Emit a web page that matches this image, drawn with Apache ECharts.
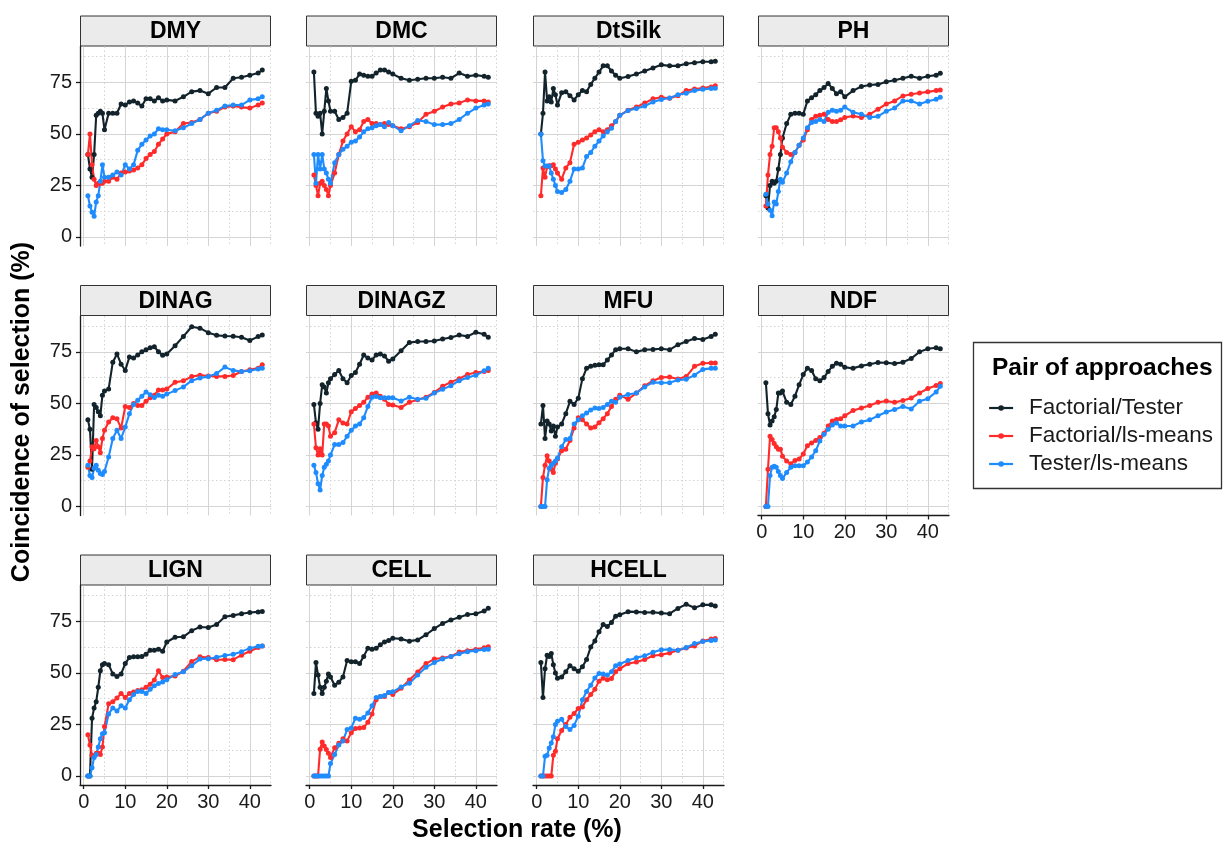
<!DOCTYPE html>
<html>
<head>
<meta charset="utf-8">
<script src="https://cdn.jsdelivr.net/npm/echarts@6/dist/echarts.min.js"></script>
<style>
html, body { margin: 0; padding: 0; background: #fff; }
#main { width: 1224px; height: 847px; }
</style>
</head>
<body>
<div id="main"></div>
<script>
// selection rate (%) shared by every panel
var rate = [1, 1.5, 2, 2.5, 3, 3.5, 4, 4.5, 5, 6, 7, 8, 9, 10, 11, 12, 13, 14, 15, 16, 17, 18, 19, 20, 22, 24, 26, 28, 30, 32, 34, 36, 38, 40, 42, 43];

// coincidence (%) : FT = Factorial/Tester, FL = Factorial/ls-means, TL = Tester/ls-means
var dmyFT = [40,33,29,40,59,60,61,60,52,60,60,60,64.5,64,65.5,66,65,63.5,67,67,66,67.5,66,66.5,66,68,70.5,71,69.5,72.5,72.5,77,77.5,78.5,79.5,81];
var dmyFL = [40,50,35,28,25,26,26,26,27,27,29,28,31,31.5,32,32.5,33.5,35,38,40,41.5,45,47.5,50,51,55,55.5,57,60,61,63,63.5,63,62.5,64,65];
var dmyTL = [20,15,12,10,17,20,27,35,29,29,30,31.5,30,35,33,35,42,45,47,49,50,52.5,52,52,51.5,53,55,57,60,61.5,63.5,64,64,66.5,67,68];

var dmcFT = [80,60,58.5,60,50,61,72,66,61,61,57,58,60,75.5,76,79,78.5,78,78,79.5,81,81,80,79,77,76,76.5,77,77,77.5,77,79.5,78,78.5,78,77.5];
var dmcFL = [30,25,20,26,27,25,23,20,25,31,40,46.5,50,53.5,51,52,56,57,55,55,54.5,55,54.5,54,52.5,53.5,55.5,59.5,61,63,64.5,65,66.5,66,66,65.5];
var dmcTL = [40,26,40,33,40,33,31,28,26,36,40,42.5,44,46,46.5,48.5,51,52.5,53,54,54.5,53.5,55.5,54,51.5,54,56.5,56,54.5,54.5,55,57,60,62.5,64,64.5];

var silkFT = [50,60,80,66,68,65.5,72,69,64,70,70.5,68.5,66.5,69,71,70.5,74,77,80,83,83,80.5,78.5,77,77.8,79,80.5,82,83.5,83,83,84,84.5,85,85,85.3];
var silkFL = [20,33.5,29,34,34.5,34.5,35,33,31,28,33.5,36,45,46,47,48,49.5,51,52,51,52,54,56,59,61.5,63,65,67,67.8,67.3,68.5,71,71.8,72.3,72.8,73.3];
var silkTL = [50,37,34.4,34.4,34.4,31,28,25,22,21.5,23,27,33,33,33.5,39,41,44,46.5,49,51,52.7,56,59,61.3,62.3,63.5,65.5,66.7,67.4,69,69.7,71,71.6,72,72.1];

var phFT = [20,14,25,27,26,27,33,40,48,55,59.5,60,60,59.5,66,67.5,69,71,72.5,74.5,72,69.5,70.5,68,71,73,73.7,74,75.3,76,77,78,77,78,78.5,79.4];
var phFL = [15,30,40,44,53,53,51,48,43.5,41,40,41,44.5,47,52,57,58.5,59,59.5,57,56,56,56.8,58,58.7,58,59.5,62,64.5,66,68.4,69.2,69.8,70.4,71,71.3];
var phTL = [20.7,16,13,10.3,17,16,22,28,26.5,31,36.5,41,44.5,48,53,55.5,56,57,56,60.5,61.5,61,61.5,63,60.5,59.5,58,58.5,61,62.5,66,66,64.5,65.8,66.8,67.8];

var dinagFT = [42,37.5,18,49.5,48,46,44,54,56,57,70,74,69,66,72.5,72,73.5,75,76,77,77.5,75,73.3,74,78,82.5,87.2,86.5,84.3,83,82.7,82.6,82.1,80.5,82.4,83.2];
var dinagFL = [19,22,29,28,32,29,26,33,37,41,43,42.5,38,48.5,48,50,49,49,51,52.7,54,56.5,56.5,57,60.2,61,63,63.7,63.3,63.1,63.1,63.5,65.5,66.3,67.1,68.8];
var dinagTL = [20,15,14,18.5,20,17.5,16,15.5,17,24,33,37,33,38.5,45,49.5,51.5,53.5,55.5,54.2,52.8,54,53.5,54.5,56.2,58,61,62.3,63,64.5,67.6,66,65.5,65.8,66.7,67.1];

var dinagzFT = [49.5,40.6,37.5,50,59,58,55,60,62,64,66,62,60,63.5,65,69,73.5,72,71,73.5,74,73,70.5,71.5,75.5,79.5,80,80,80.3,81.2,82,83.2,82.5,84.5,83.5,82.1];
var dinagzFL = [40,28.5,25,28,25,40,40,39,34,35.8,42,40.5,40,46,47.5,49,50.5,53,54.5,55,53.5,52,49.5,49.2,48,50.5,51.8,53,55.3,58.3,60.3,62,64,65,65.5,66];
var dinagzTL = [20,16.5,11,8,15,19,20.5,22,25,30,30,31,34,37,39,40,43,48.5,53,53.3,52.7,52.7,52.7,52.7,51.2,53,52,52.5,55,56.8,58.6,61,62.6,63.6,65.8,67.1];

var mfuFT = [40,49,33,41.4,40,36.6,39,34,38.5,40,45,51,49.5,52.5,62,67,68,68.5,68.8,68.8,71,73.5,76,76.5,76.5,75,76,76.2,76.5,76,78.5,80,81.5,81,82.5,83.5];
var mfuFL = [0,14,20,24.6,22,18,16.5,21,23,27,27.8,32,38,43,42,40,38,38.5,40.6,42.5,45,48.5,52,54,52,55,58.5,61,62.6,62.8,61.8,63,68,69.5,69.6,69.6];
var mfuTL = [0,0,0,13,18.5,20,21,22,23.5,29,32.5,33,40,42,44,45.3,46.8,47.7,47.5,48,49.5,51,50.5,53,54.3,55,58,60.2,60,60,61.3,61.7,63.7,66.5,67,67.1];

var ndfFT = [60,45,39.5,41.5,43.5,47,55,55,56,50.5,49.5,53.5,59,64,67,66,62,61,62.5,65.5,68,69.5,69,67.5,67,68.2,69,69.8,69.7,69.3,70,71.8,75,76.5,77,76.5];
var ndfFL = [0,18,34,32.5,30.5,29,27.8,27.8,24.3,22,20.7,22.3,23,25.4,29.5,30.8,32,33.4,35.5,39,41.5,42.2,42.5,44,46.5,47.8,49,50.5,51.2,50.5,51.4,52.6,55,57.2,58.7,59.6];
var ndfTL = [0,0,15,19,19.5,19,17,15,13.5,16.5,19,19.8,19.8,19.8,21.5,24,27,31.8,35,37.5,39.5,40.5,39,39,39,41,42,44,45.8,47,48.5,47.3,51,52.3,55.5,58.3];

var lignFT = [0,0,28,33,36,43,51,54,54.5,54,49.5,48.2,49.5,54.5,57.5,57.8,57.8,58,59,61,61,61.5,60.5,65,67.3,67.5,70.5,72.3,72,73.5,77.2,77.9,78.7,79.3,79.6,79.8];
var lignFL = [20,15,10,9.5,11,11,10.4,14,24,35,36,37.8,40,38,40,40.7,41.4,41.8,43,44.5,46.5,51,47.8,48,48.5,50.8,55.5,57.8,57.5,56.4,56.5,56.4,58.6,60.5,62.3,63.1];
var lignTL = [0,0,4,9,10.4,14,18,20.5,21,30,33,31.5,34,33,37,39.5,41,41,40,42,43.7,44.8,45.6,46.7,49.2,50.6,53.5,56.7,56.9,57.6,58.4,59,60.3,62,62.9,63.1];

var cellFT = [40,55,49,43,40,43,46,49.5,48,44,45.5,48,56,55.4,55.4,54.5,58,62,61.5,62,63.6,65,65.7,66.8,66.5,65.4,66,68.5,71.5,74,75.7,77,78.3,78.7,80,81.4];
var cellFL = [0,0,0,13,16.5,14.5,12.8,11,9,13.7,15.8,18,17,21,23,23.3,23.5,26,30,37,38.6,38.6,40.5,39.5,42.5,46.5,50.4,54.5,56.7,57.2,58,60.1,60.8,61.4,62.2,62.7];
var cellTL = [0,0,0,0,0,0,0,0,6,10.4,15,17,22.5,23.3,28,27.5,28.3,30.5,34,38,38.6,39,40.5,40.8,43.2,45,49,52.7,55,56.7,58,59.3,60.3,60.8,61.3,61.5];

var hcellFT = [55,38,52,58.5,58,59.4,54,50,47.4,48,50.5,53.5,52,50.8,53,56.5,62.5,65.5,70,73.5,72.5,74.5,77.5,78.2,79.7,79.6,79.3,79.4,79,78.7,81.3,83.3,81.6,83,83,82.4];
var hcellFL = [0,0,0,0,0,0,10,12,18,22,25,28.5,30.3,32.7,33.5,37,39.5,42,46,47.4,46.7,47.3,50.5,52,54.5,55.3,56.5,58.3,58.8,59.7,61,62.1,63,65.5,66.4,66.7];
var hcellTL = [0,0,9.6,10,13.5,16,19,25,26.5,27.5,24,22.5,24.5,29,37,41,44,47.5,49.7,49.5,49,50.5,53.5,54.3,56,57.4,58.3,60,61.2,61.4,61,62.3,64.2,65.2,65.7,65.9];

var traits = ['DMY', 'DMC', 'DtSilk', 'PH', 'DINAG', 'DINAGZ', 'MFU', 'NDF', 'LIGN', 'CELL', 'HCELL'];
var pairs = ['Factorial/Tester', 'Factorial/ls-means', 'Tester/ls-means'];
var xTicks = [0, 10, 20, 30, 40];
var xMinor = [5, 15, 25, 35, 45];
var yTicks = [0, 25, 50, 75];
var yMinor = [12.5, 37.5, 62.5, 87.5];

var values = [
	[dmyFT, dmyFL, dmyTL], [dmcFT, dmcFL, dmcTL], [silkFT, silkFL, silkTL], [phFT, phFL, phTL],
	[dinagFT, dinagFL, dinagTL], [dinagzFT, dinagzFL, dinagzTL], [mfuFT, mfuFL, mfuTL], [ndfFT, ndfFL, ndfTL],
	[lignFT, lignFL, lignTL], [cellFT, cellFL, cellTL], [hcellFT, hcellFL, hcellTL]
];

var colors = ['#13232b', '#ff2b2b', '#1e8cff'];
var font = '"Liberation Sans", Arial, sans-serif';
var axisColor = '#1a1a1a';
var gridColor = '#d4d4d4';

var colLeft = [80, 306, 533, 758];
var rowTop = [46.5, 316, 585.5];
var pw = 191, ph = 199.5, stripH = 31;

var grids = [], xAxes = [], yAxes = [], series = [], graphics = [];

traits.forEach(function (name, i) {
	var col = i % 4, row = Math.floor(i / 4);
	var L = colLeft[col], T = rowTop[row];
	var showX = (row == 2 || i == 7);
	var showY = (col == 0);

	grids.push({ left: L, top: T, width: pw, height: ph, outerBoundsMode: 'none' });

	xAxes.push({
		type: 'value', gridIndex: i, min: -0.9, max: 45.1, position: 'bottom',
		axisLine: { show: showX, onZero: false, lineStyle: { color: axisColor, width: 1.3 } },
		axisTick: { show: showX, customValues: xTicks, length: 4, lineStyle: { color: axisColor, width: 1.3 } },
		axisLabel: { show: showX, customValues: xTicks, fontSize: 20, fontFamily: font, color: axisColor, margin: 7 },
		splitLine: { show: true, lineStyle: { color: gridColor, width: 1 } }
	});
	xAxes.push({
		type: 'value', gridIndex: i, min: -0.9, max: 45.1, position: 'top',
		axisLine: { show: false }, axisLabel: { show: false },
		axisTick: { show: false, customValues: xMinor },
		splitLine: { show: true, lineStyle: { color: gridColor, width: 1, type: [1.5, 2.5] } }
	});
	yAxes.push({
		type: 'value', gridIndex: i, min: -4.4, max: 92.4, position: 'left',
		axisLine: { show: showY, onZero: false, lineStyle: { color: axisColor, width: 1.3 } },
		axisTick: { show: showY, customValues: yTicks, length: 4, lineStyle: { color: axisColor, width: 1.3 } },
		axisLabel: { show: showY, customValues: yTicks, fontSize: 20, fontFamily: font, color: axisColor, margin: 8 },
		splitLine: { show: true, lineStyle: { color: gridColor, width: 1 } }
	});
	yAxes.push({
		type: 'value', gridIndex: i, min: -4.4, max: 92.4, position: 'right',
		axisLine: { show: false }, axisLabel: { show: false },
		axisTick: { show: false, customValues: yMinor },
		splitLine: { show: true, lineStyle: { color: gridColor, width: 1, type: [1.5, 2.5] } }
	});

	values[i].forEach(function (arr, k) {
		series.push({
			name: pairs[k], type: 'line', xAxisIndex: 2 * i, yAxisIndex: 2 * i,
			data: rate.map(function (x, j) { return [x, arr[j]]; }),
			symbol: 'circle', symbolSize: 5, showSymbol: true,
			lineStyle: { width: 2.1, color: colors[k] },
			itemStyle: { color: colors[k] },
			emphasis: { disabled: true },
			animation: false
		});
	});

	// facet strip
	graphics.push({
		type: 'rect', silent: true,
		shape: { x: L + 0.5, y: T - stripH + 0.5, width: pw - 1, height: stripH - 1 },
		style: { fill: '#ebebeb', stroke: '#333333', lineWidth: 1 }
	});
	graphics.push({
		type: 'text', silent: true,
		style: { x: L + pw / 2, y: T - stripH / 2 + 1, text: name, textAlign: 'center', textVerticalAlign: 'middle',
			font: 'bold 23px ' + font, fill: '#000' }
	});
});

// legend frame and title
graphics.push({
	type: 'rect', silent: true,
	shape: { x: 973.5, y: 342.5, width: 248, height: 146 },
	style: { fill: 'none', stroke: '#333333', lineWidth: 1.3 }
});
graphics.push({
	type: 'text', silent: true,
	style: { x: 992, y: 368, text: 'Pair of approaches', textAlign: 'left', textVerticalAlign: 'middle',
		font: 'bold 24.5px ' + font, fill: '#000' }
});
// axis titles
graphics.push({
	type: 'text', silent: true,
	style: { x: 517, y: 830, text: 'Selection rate (%)', textAlign: 'center', textVerticalAlign: 'middle',
		font: 'bold 25px ' + font, fill: '#000' }
});
graphics.push({
	type: 'text', silent: true, x: 22, y: 412, rotation: Math.PI / 2,
	style: { x: 0, y: 0, text: 'Coincidence of selection (%)', textAlign: 'center', textVerticalAlign: 'middle',
		font: 'bold 25px ' + font, fill: '#000' }
});

var option = {
	backgroundColor: '#ffffff',
	animation: false,
	grid: grids,
	xAxis: xAxes,
	yAxis: yAxes,
	series: series,
	graphic: graphics,
	legend: {
		data: pairs,
		orient: 'vertical',
		left: 983, top: 391,
		itemWidth: 24, itemHeight: 7, itemGap: 4,
		selectedMode: false,
		lineStyle: { width: 2.2 },
		textStyle: { fontSize: 22.5, fontFamily: font, color: axisColor, lineHeight: 24, padding: [0, 0, 0, 11] }
	}
};

var myChart = echarts.init(document.getElementById('main'), null, { renderer: 'canvas' });
myChart.setOption(option, true);
</script>
</body>
</html>
